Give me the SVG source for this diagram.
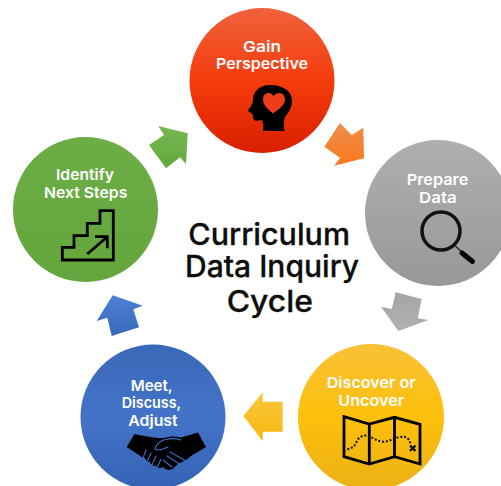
<svg xmlns="http://www.w3.org/2000/svg" width="501" height="486" viewBox="0 0 501 486">
<style>
text{font-family:"Inter","Liberation Sans",sans-serif;font-weight:600}
.l{font-size:15px;fill:#fff}
.t{font-size:30px;fill:#0d0d0d;font-weight:500;stroke:#0d0d0d;stroke-width:.3}
.k{fill:#000}
.o{fill:none;stroke:#000;stroke-width:2.800;stroke-linejoin:miter}
</style>
<defs>
<linearGradient id="gr" x1="0" y1="0" x2="0" y2="1"><stop offset="0" stop-color="#f0623c"/><stop offset=".5" stop-color="#f53c0d"/><stop offset="1" stop-color="#d92000"/></linearGradient>
<linearGradient id="gg" x1="0" y1="0" x2="0" y2="1"><stop offset="0" stop-color="#afafaf"/><stop offset="1" stop-color="#989898"/></linearGradient>
<linearGradient id="gy" x1="0" y1="0" x2="0" y2="1"><stop offset="0" stop-color="#f8c136"/><stop offset=".5" stop-color="#fdc00c"/><stop offset="1" stop-color="#ebb015"/></linearGradient>
<linearGradient id="gb" x1="0" y1="0" x2="0" y2="1"><stop offset="0" stop-color="#3a68b8"/><stop offset=".5" stop-color="#4474c8"/><stop offset="1" stop-color="#3462b4"/></linearGradient>
<linearGradient id="gn" x1="0" y1="0" x2="0" y2="1"><stop offset="0" stop-color="#6cad46"/><stop offset="1" stop-color="#64a63c"/></linearGradient>
<linearGradient id="ao" x1="0" y1="0" x2="0" y2="1"><stop offset="0" stop-color="#ee8c4c"/><stop offset="1" stop-color="#fb7a1e"/></linearGradient>
<linearGradient id="ag" x1="0" y1="0" x2="0" y2="1"><stop offset="0" stop-color="#a5a5a5"/><stop offset="1" stop-color="#b0b0b0"/></linearGradient>
<linearGradient id="ay" x1="0" y1="0" x2="0" y2="1"><stop offset="0" stop-color="#fac63e"/><stop offset="1" stop-color="#f6b70e"/></linearGradient>
<linearGradient id="ab" x1="0" y1="0" x2="0" y2="1"><stop offset="0" stop-color="#4c80d8"/><stop offset="1" stop-color="#376ab8"/></linearGradient>
<linearGradient id="an" x1="0" y1="0" x2="0" y2="1"><stop offset="0" stop-color="#76b850"/><stop offset="1" stop-color="#62a83c"/></linearGradient>
</defs>
<rect width="501" height="486" fill="#fff"/>
<g id="connectors">
<polygon fill="url(#ao)" points="340,123 351.7,135 363.3,127.7 364,158.3 334.3,165.7 340,157.7 324.3,146.7"/>
<polygon fill="url(#ag)" points="395.7,292.3 421.7,299 417.7,318.3 428.3,320 398.3,331 381,306.7 391.7,309"/>
<polygon fill="url(#ay)" points="243.3,416 262.7,392.3 262.7,401.7 282.7,401.7 282.7,431.7 262.7,431.7 262.7,441"/>
<polygon fill="url(#ab)" points="112.7,295.3 142.7,305.7 133.3,309.3 139,327.3 111.7,336 107.3,317.7 96.7,321"/>
<polygon fill="url(#an)" points="158.3,126 187.7,133.3 186,164 180,157.3 166,168.3 149,145 164,135"/>
</g>
<g id="node-gain">
<circle cx="262" cy="80.5" r="72.5" fill="url(#gr)"/>
<text class="l" x="243" y="51.7" textLength="38" lengthAdjust="spacingAndGlyphs">Gain</text>
<text class="l" x="216" y="69.3" textLength="92" lengthAdjust="spacingAndGlyphs">Perspective</text>
<path class="k" d="M263 131C264 126 263 122 261.5 120C258 121 254 121.5 253.3 118.5C253 116 252.5 114 251.5 113C249 112.5 248 111 248.5 109.5C250 107 252.5 105 253 101C252.5 92 259 85 270 85C283 85 292 91 292 101C292 108 288 113 285 117C283.5 121 283.5 126 284.5 131Z"/>
<path fill="#ee3d18" d="M273 113.500C268 109 263 105.500 263 99.500C263 95 266 93 268.500 93C270.500 93 272 94 273.500 96C275 94 277 93 279.500 93C283 93 285 96 285 99.500C285 105.500 278 109.500 273 113.500Z"/>
</g>
<g id="node-prepare">
<circle cx="438" cy="213" r="73" fill="url(#gg)"/>
<text class="l" x="406.700" y="185" textLength="61.600" lengthAdjust="spacingAndGlyphs">Prepare</text>
<text class="l" x="419" y="202.700" textLength="37.700" lengthAdjust="spacingAndGlyphs">Data</text>
<circle cx="441" cy="231" r="19" fill="none" stroke="#111" stroke-width="3.500"/>
<line x1="455" y1="245.500" x2="461" y2="251.500" stroke="#222" stroke-width="1.200"/>
<line x1="462" y1="253" x2="472.500" y2="261.500" stroke="#000" stroke-width="5" stroke-linecap="round"/>
</g>
<g id="node-discover">
<circle cx="371" cy="417" r="73" fill="url(#gy)"/>
<text class="l" x="326.700" y="388.300" textLength="89" lengthAdjust="spacingAndGlyphs">Discover or</text>
<text class="l" x="338.300" y="405.700" textLength="66" lengthAdjust="spacingAndGlyphs">Uncover</text>
<path class="o" d="M344 416.700L369.300 424L394.500 417.300L420 424.300V464L394.500 456.700L369.300 464L344 456.700ZM369.300 424V464M394.500 417.300V456.700"/>
<path d="M347.300 449.300C352 448 354 447 356 443C358 438 361 435.500 366 435.500C372 436 376 441.500 383 441.700C390 441.500 393 438 400 437C406 436 409 438 410.500 444" fill="none" stroke="#111" stroke-width="2" stroke-dasharray="2 1.800"/>
<path d="M410 445.500L415.500 451M415.500 445.500L410 451" fill="none" stroke="#111" stroke-width="2.400"/>
</g>
<g id="node-meet">
<circle cx="153" cy="417" r="72.500" fill="url(#gb)"/>
<text class="l" x="130.700" y="391" textLength="42" lengthAdjust="spacingAndGlyphs">Meet,</text>
<text class="l" x="121.700" y="408.300" textLength="59.500" lengthAdjust="spacingAndGlyphs">Discuss,</text>
<text class="l" x="128.300" y="426" textLength="49.400" lengthAdjust="spacingAndGlyphs">Adjust</text>
<path class="k" d="M134.500 434L126.700 447L139 455C141 457 143 458 145 458C146 461 148 462 150 462C151 465 153 466 155 465.500C157 468 160 469 163 467C166 470 170 471 173 468.500L178 464L186 460L191 456L206 447L198 432.500L181 437.500C175 436 170 436 164 438C156 438.500 144 436 134.500 434Z"/>
<path d="M155 449C156 445 160 441 165 439.500C172 438 177 438.500 181 440M155 449C159 451 164 449 168 447M170 452L186 461M167 456L181 465M163 460L172 467M146 450L143 458M151 453L147 462M156 456L152 465M161 459L157 468" fill="none" stroke="#3f6ebe" stroke-width="1.100" stroke-linecap="round"/>
</g>
<g id="node-identify">
<circle cx="85.500" cy="209.500" r="72.500" fill="url(#gn)"/>
<text class="l" x="56" y="180" textLength="58" lengthAdjust="spacingAndGlyphs">Identify</text>
<text class="l" x="44" y="197.700" textLength="83.300" lengthAdjust="spacingAndGlyphs">Next Steps</text>
<path class="o" d="M113.300 210.700V260H62.300V247.300H74V235.700H87.300V223.300H100V210.700Z"/>
<path class="o" d="M87.300 254L107.300 236.700M95 236.700H107.300V248.300"/>
</g>
<g id="title">
<text class="t" x="188.300" y="245" textLength="161.700" lengthAdjust="spacingAndGlyphs">Curriculum</text>
<text class="t" x="185" y="277" textLength="174" lengthAdjust="spacingAndGlyphs">Data Inquiry</text>
<text class="t" x="226.700" y="311.700" textLength="86.300" lengthAdjust="spacingAndGlyphs">Cycle</text>
</g>
</svg>
